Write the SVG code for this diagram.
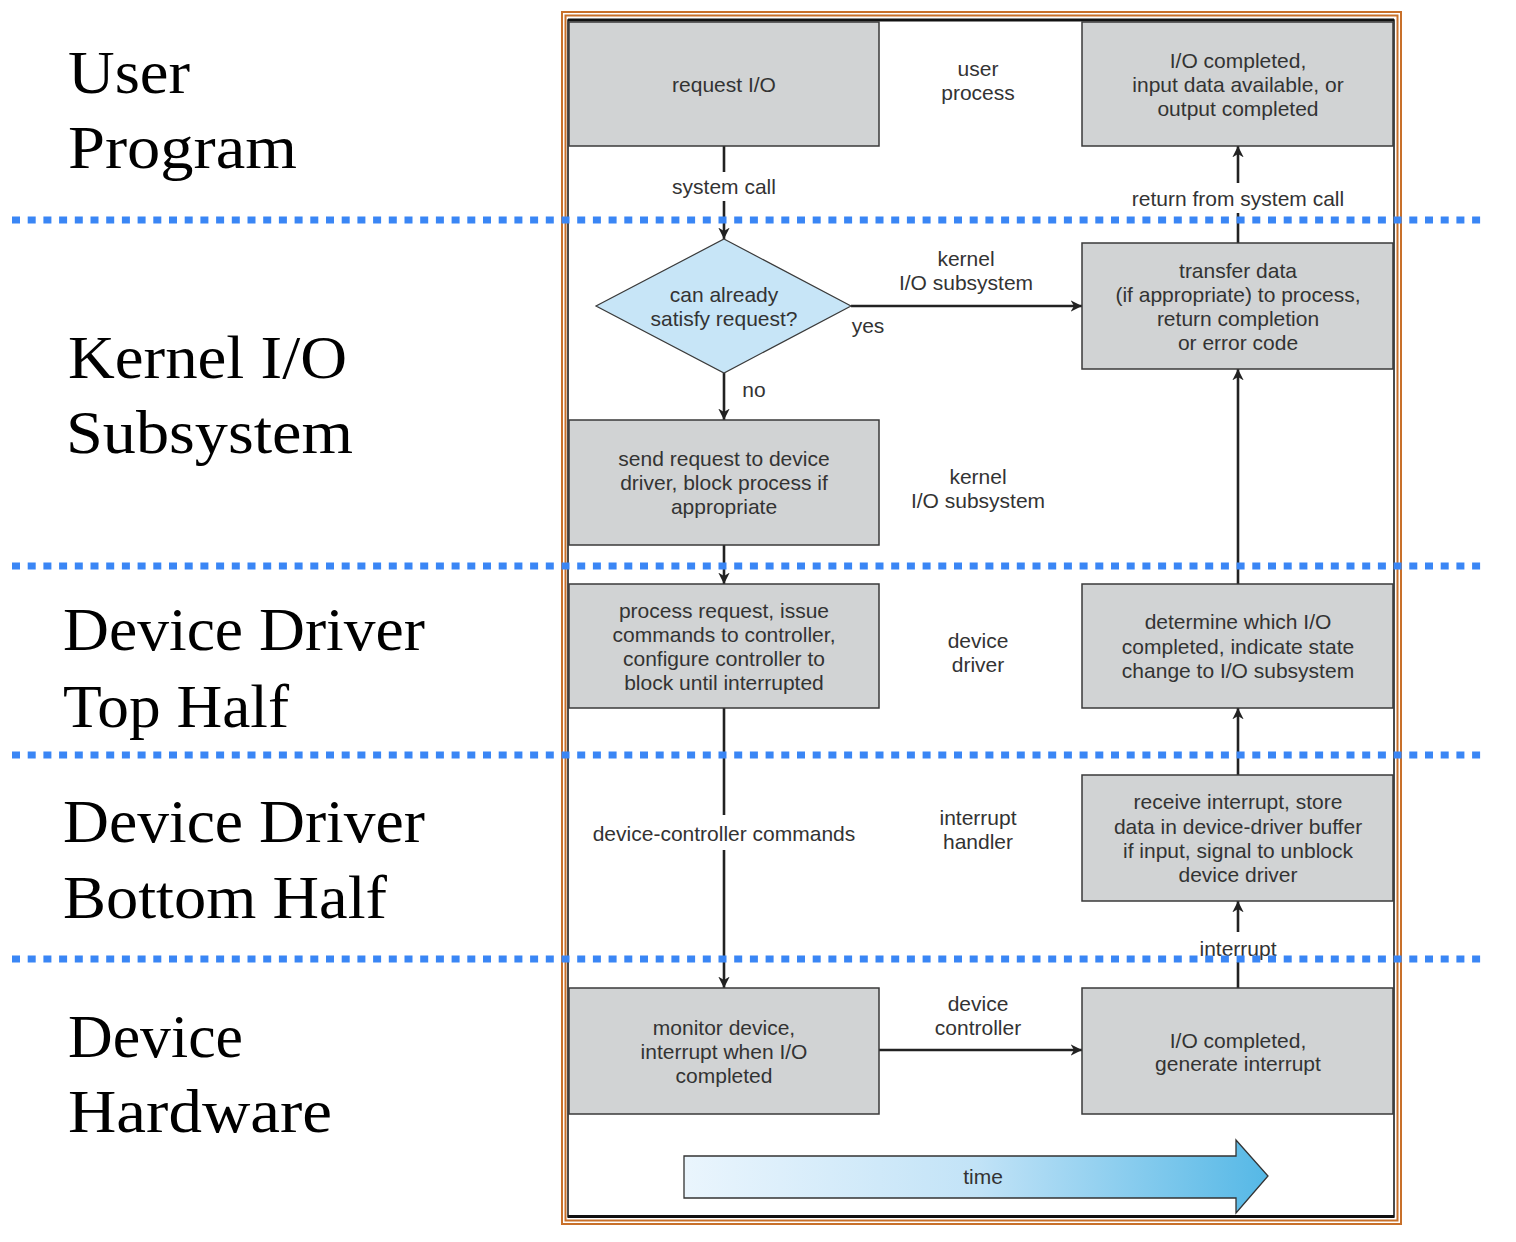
<svg xmlns="http://www.w3.org/2000/svg" width="1516" height="1242" viewBox="0 0 1516 1242">
<defs>
<style>
.lbl{font-family:"Liberation Serif","Times New Roman",serif;font-size:62px;fill:#000}
.t{font-family:"Liberation Sans",Arial,sans-serif;font-size:21px;fill:#333;text-anchor:middle;dominant-baseline:central}
.box{fill:#d1d3d4;stroke:#3a3a3a;stroke-width:1.5}
.ln{stroke:#222;stroke-width:2.6;fill:none}
.dot{stroke:#3a86f5;stroke-width:7;stroke-dasharray:8 7.7;fill:none}
</style>
<marker id="ah" viewBox="0 0 10 10" refX="10" refY="5" markerWidth="4.4" markerHeight="4.4" orient="auto" markerUnits="strokeWidth">
<path d="M0,0 L10,5 L0,10 L3,5 Z" fill="#222"/>
</marker>
<linearGradient id="tg" x1="0" y1="0" x2="1" y2="0">
<stop offset="0" stop-color="#eaf5fd"/>
<stop offset="0.5" stop-color="#c2e3f7"/>
<stop offset="1" stop-color="#55b8e6"/>
</linearGradient>
</defs>
<rect width="1516" height="1242" fill="#fff"/>

<g id="labels">
<text class="lbl" x="68" y="93" textLength="122" lengthAdjust="spacingAndGlyphs">User</text>
<text class="lbl" x="68" y="168" textLength="229" lengthAdjust="spacingAndGlyphs">Program</text>
<text class="lbl" x="68" y="378" textLength="279" lengthAdjust="spacingAndGlyphs">Kernel I/O</text>
<text class="lbl" x="66" y="453" textLength="287" lengthAdjust="spacingAndGlyphs">Subsystem</text>
<text class="lbl" x="63" y="650" textLength="362" lengthAdjust="spacingAndGlyphs">Device Driver</text>
<text class="lbl" x="63" y="727" textLength="226" lengthAdjust="spacingAndGlyphs">Top Half</text>
<text class="lbl" x="63" y="842" textLength="362" lengthAdjust="spacingAndGlyphs">Device Driver</text>
<text class="lbl" x="63" y="918" textLength="324" lengthAdjust="spacingAndGlyphs">Bottom Half</text>
<text class="lbl" x="68" y="1057" textLength="175" lengthAdjust="spacingAndGlyphs">Device</text>
<text class="lbl" x="68" y="1132" textLength="264" lengthAdjust="spacingAndGlyphs">Hardware</text>
</g>

<g id="frame">
<rect x="562" y="12" width="839" height="1212" fill="none" stroke="#c8702a" stroke-width="2"/>
<rect x="565.5" y="15.5" width="832" height="1205" fill="none" stroke="#c8702a" stroke-width="2"/>
<rect x="568" y="20" width="826" height="1197" fill="#fff" stroke="#111" stroke-width="1.5"/>
<line x1="568" y1="20" x2="1394" y2="20" stroke="#111" stroke-width="3"/>
<line x1="568" y1="1216.5" x2="1394" y2="1216.5" stroke="#111" stroke-width="3"/>
</g>

<g id="mid-labels">
<text class="t" x="978" y="68">user</text>
<text class="t" x="978" y="92">process</text>
<text class="t" x="966" y="258">kernel</text>
<text class="t" x="966" y="282">I/O subsystem</text>
<text class="t" x="978" y="476">kernel</text>
<text class="t" x="978" y="500">I/O subsystem</text>
<text class="t" x="978" y="640">device</text>
<text class="t" x="978" y="664">driver</text>
<text class="t" x="978" y="817">interrupt</text>
<text class="t" x="978" y="841">handler</text>
<text class="t" x="978" y="1003">device</text>
<text class="t" x="978" y="1027">controller</text>
</g>

<g id="connectors">
<line class="ln" x1="724" y1="146" x2="724" y2="172"/>
<line class="ln" x1="724" y1="201" x2="724" y2="239" marker-end="url(#ah)"/>
<text class="t" x="724" y="186">system call</text>
<line class="ln" x1="851" y1="306" x2="1082" y2="306" marker-end="url(#ah)"/>
<text class="t" x="868" y="325">yes</text>
<line class="ln" x1="724" y1="373" x2="724" y2="420" marker-end="url(#ah)"/>
<text class="t" x="754" y="389">no</text>
<line class="ln" x1="724" y1="545" x2="724" y2="584" marker-end="url(#ah)"/>
<line class="ln" x1="724" y1="708" x2="724" y2="815"/>
<line class="ln" x1="724" y1="850" x2="724" y2="988" marker-end="url(#ah)"/>
<text class="t" x="724" y="833">device-controller commands</text>
<line class="ln" x1="879" y1="1050" x2="1082" y2="1050" marker-end="url(#ah)"/>
<line class="ln" x1="1238" y1="988" x2="1238" y2="962"/>
<line class="ln" x1="1238" y1="932" x2="1238" y2="901" marker-end="url(#ah)"/>
<text class="t" x="1238" y="948">interrupt</text>
<line class="ln" x1="1238" y1="775" x2="1238" y2="708" marker-end="url(#ah)"/>
<line class="ln" x1="1238" y1="584" x2="1238" y2="369" marker-end="url(#ah)"/>
<line class="ln" x1="1238" y1="243" x2="1238" y2="213"/>
<line class="ln" x1="1238" y1="183" x2="1238" y2="146" marker-end="url(#ah)"/>
<text class="t" x="1238" y="198">return from system call</text>
</g>

<g id="n-request">
<rect class="box" x="569" y="22" width="310" height="124"/>
<text class="t" x="724" y="84">request I/O</text>
</g>
<g id="n-iocompleted">
<rect class="box" x="1082" y="22" width="311" height="124"/>
<text class="t" x="1238" y="60">I/O completed,</text>
<text class="t" x="1238" y="84">input data available, or</text>
<text class="t" x="1238" y="108">output completed</text>
</g>
<g id="n-decision">
<polygon points="724,239 851,306 724,373 596,306" fill="#c7e5f7" stroke="#3a3a3a" stroke-width="1.2"/>
<text class="t" x="724" y="294">can already</text>
<text class="t" x="724" y="318">satisfy request?</text>
</g>
<g id="n-transfer">
<rect class="box" x="1082" y="243" width="311" height="126"/>
<text class="t" x="1238" y="270">transfer data</text>
<text class="t" x="1238" y="294">(if appropriate) to process,</text>
<text class="t" x="1238" y="318">return completion</text>
<text class="t" x="1238" y="342">or error code</text>
</g>
<g id="n-send">
<rect class="box" x="569" y="420" width="310" height="125"/>
<text class="t" x="724" y="458">send request to device</text>
<text class="t" x="724" y="482">driver, block process if</text>
<text class="t" x="724" y="506">appropriate</text>
</g>
<g id="n-process">
<rect class="box" x="569" y="584" width="310" height="124"/>
<text class="t" x="724" y="610">process request, issue</text>
<text class="t" x="724" y="634">commands to controller,</text>
<text class="t" x="724" y="658">configure controller to</text>
<text class="t" x="724" y="682">block until interrupted</text>
</g>
<g id="n-determine">
<rect class="box" x="1082" y="584" width="311" height="124"/>
<text class="t" x="1238" y="621">determine which I/O</text>
<text class="t" x="1238" y="646">completed, indicate state</text>
<text class="t" x="1238" y="670">change to I/O subsystem</text>
</g>
<g id="n-receive">
<rect class="box" x="1082" y="775" width="311" height="126"/>
<text class="t" x="1238" y="801">receive interrupt, store</text>
<text class="t" x="1238" y="826">data in device-driver buffer</text>
<text class="t" x="1238" y="850">if input, signal to unblock</text>
<text class="t" x="1238" y="874">device driver</text>
</g>
<g id="n-monitor">
<rect class="box" x="569" y="988" width="310" height="126"/>
<text class="t" x="724" y="1027">monitor device,</text>
<text class="t" x="724" y="1051">interrupt when I/O</text>
<text class="t" x="724" y="1075">completed</text>
</g>
<g id="n-generate">
<rect class="box" x="1082" y="988" width="311" height="126"/>
<text class="t" x="1238" y="1040">I/O completed,</text>
<text class="t" x="1238" y="1063">generate interrupt</text>
</g>

<g id="time">
<polygon points="684,1156 1236,1156 1236,1140 1268,1176 1236,1213 1236,1198 684,1198" fill="url(#tg)" stroke="#333" stroke-width="1.3"/>
<text class="t" x="983" y="1176">time</text>
</g>

<g id="dividers">
<line class="dot" x1="12" y1="220" x2="1484" y2="220"/>
<line class="dot" x1="12" y1="566" x2="1484" y2="566"/>
<line class="dot" x1="12" y1="755" x2="1484" y2="755"/>
<line class="dot" x1="12" y1="959" x2="1484" y2="959"/>
</g>
</svg>
